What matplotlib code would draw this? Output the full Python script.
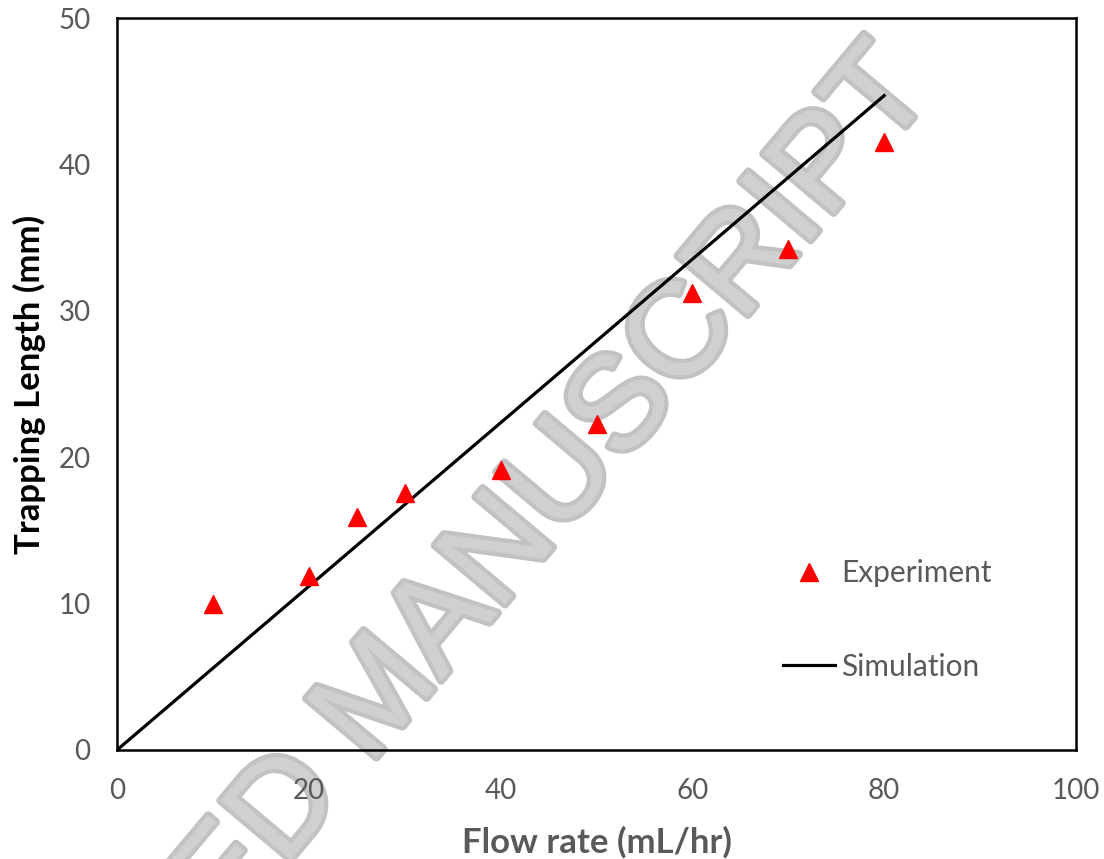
import matplotlib
matplotlib.use('Agg')
import matplotlib.pyplot as plt
import matplotlib.patheffects as pe
from matplotlib import font_manager

# Datos
flow_exp = [10, 20, 25, 30, 40, 50, 60, 70, 80]
length_exp = [10.0, 11.9, 15.9, 17.55, 19.1, 22.3, 31.2, 34.2, 41.5]
flow_sim = [0, 80]
length_sim = [0, 44.7]
xticks = [0, 20, 40, 60, 80, 100]
yticks = [0, 10, 20, 30, 40, 50]

plt.rcParams['font.family'] = ['Lato', 'DejaVu Sans']
gray = '#595959'

W, H = 1104, 859
fig = plt.figure(figsize=(W / 100, H / 100), dpi=100)
ax = fig.add_axes([117 / W, 1 - 750 / H, (1076 - 117) / W, (750 - 18) / H])
ax.set_facecolor('none')

# Marca de agua (fuente estrecha si existe)
names = {f.name for f in font_manager.fontManager.ttflist}
if 'Liberation Sans Narrow' in names:
    wm_family, wm_size = 'Liberation Sans Narrow', 117
else:
    wm_family, wm_size = 'Liberation Sans', 96
fig.text(910 / W, 1 - 68 / H, 'ACCEPTED MANUSCRIPT', rotation=50,
         rotation_mode='anchor', ha='right', va='center',
         fontsize=wm_size, color='#d0d0d0', family=wm_family,
         zorder=-5,
         path_effects=[pe.withStroke(linewidth=6, foreground='#c2c2c2')])

ax.plot(flow_exp, length_exp, linestyle='none', marker='^', ms=13,
        color='#ff0000', label='Experiment', zorder=3)
ax.plot(flow_sim, length_sim, color='black', lw=2.3, label='Simulation',
        zorder=2)

ax.set_xlim(0, 100)
ax.set_ylim(0, 50)
ax.set_xticks(xticks)
ax.set_yticks(yticks)
ax.tick_params(length=0, labelsize=20, labelcolor=gray)
ax.tick_params(axis='x', pad=20)
ax.tick_params(axis='y', pad=19)
for s in ax.spines.values():
    s.set_linewidth(1.8)
    s.set_color('black')

ax.set_xlabel('Flow rate (mL/hr)', fontsize=25, fontweight='bold',
              color=gray, labelpad=16)
ax.set_ylabel('Trapping Length (mm)', fontsize=25, fontweight='bold',
              color='black', labelpad=9)

ax.legend(loc='upper left', bbox_to_anchor=(783 / W, 1 - 559 / H),
          bbox_transform=fig.transFigure, frameon=False, fontsize=21.5,
          labelcolor=gray, borderaxespad=0, borderpad=0,
          handlelength=1.75, handletextpad=0.2, labelspacing=2.2,
          markerscale=0.95)

plt.savefig('out.png', dpi=100)
